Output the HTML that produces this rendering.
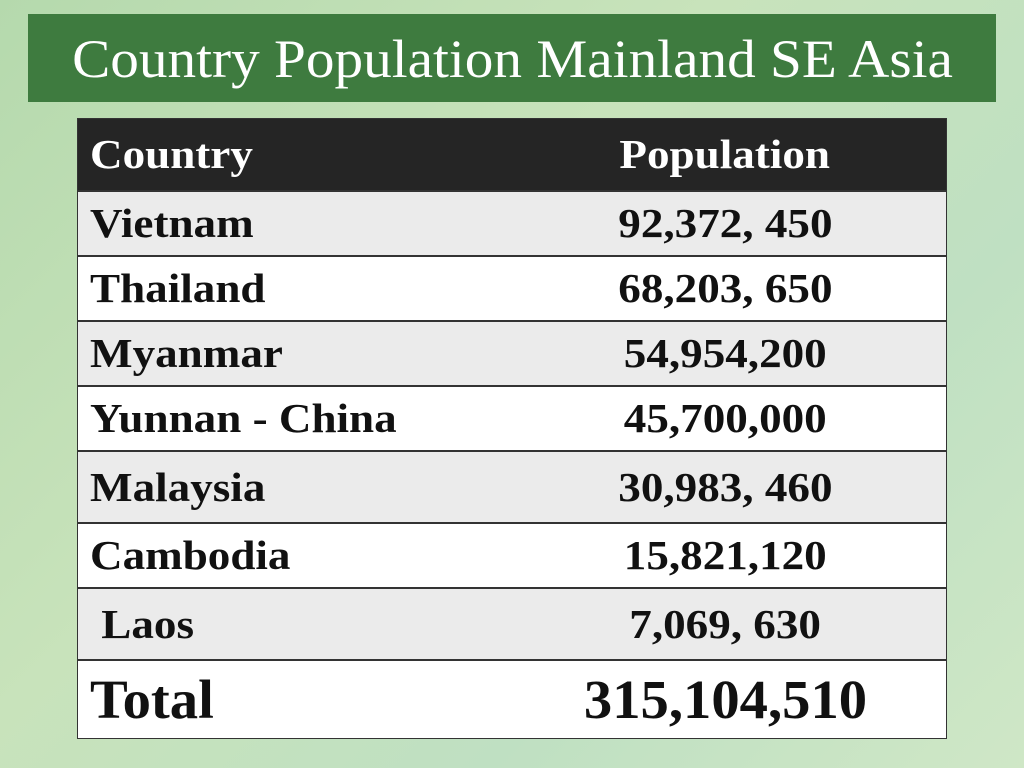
<!DOCTYPE html>
<html><head><style>
body{margin:0;width:1024px;height:768px;overflow:hidden;background:linear-gradient(135deg,#b5d9ad 0%,#c8e3bb 40%,#bfe0c2 70%,#cfe7c6 100%);font-family:"Liberation Serif",serif;position:relative}
.title{position:absolute;left:28px;top:14px;width:968px;height:88px;background:#3e7b3f;color:#fff;font-size:54px;text-align:center;line-height:100px}
.title span{position:relative;top:-5px;display:inline-block;transform:scaleX(1.06)}
.t{position:absolute;left:77px;top:118px;width:870px;border-collapse:collapse;table-layout:fixed}
.t td{font-weight:bold;font-size:41px;color:#111;border-top:2px solid #333;padding:0;white-space:nowrap}
.t td:first-child{padding-left:12px;width:414px}
.t td:last-child{text-align:center}
.t td span{display:inline-block;transform:scaleX(1.1)}
.t td:first-child span{transform-origin:left center}
.t tr{background:#ebebeb}
.t tr.w{background:#fff}
.t tr.h{background:#252525}
.t tr.h td{color:#fff;border-top:none}
.t tr.tot td{font-size:55px}
.t tr.tot td span{transform:scaleX(1.03)}
table{border:1px solid #333}
</style></head><body>
<div class="title"><span>Country Population Mainland SE Asia</span></div>
<table class="t">
<tr class="h" style="height:72px"><td><span>Country</span></td><td><span>Population</span></td></tr>
<tr style="height:65px"><td><span>Vietnam</span></td><td><span>92,372, 450</span></td></tr>
<tr class="w" style="height:65px"><td><span>Thailand</span></td><td><span>68,203, 650</span></td></tr>
<tr style="height:65px"><td><span>Myanmar</span></td><td><span>54,954,200</span></td></tr>
<tr class="w" style="height:65px"><td><span>Yunnan - China</span></td><td><span>45,700,000</span></td></tr>
<tr style="height:72px"><td><span>Malaysia</span></td><td><span>30,983, 460</span></td></tr>
<tr class="w" style="height:65px"><td><span>Cambodia</span></td><td><span>15,821,120</span></td></tr>
<tr style="height:72px"><td><span>&nbsp;Laos</span></td><td><span>7,069, 630</span></td></tr>
<tr class="w tot" style="height:79px"><td><span>Total</span></td><td><span>315,104,510</span></td></tr>
</table>
</body></html>
